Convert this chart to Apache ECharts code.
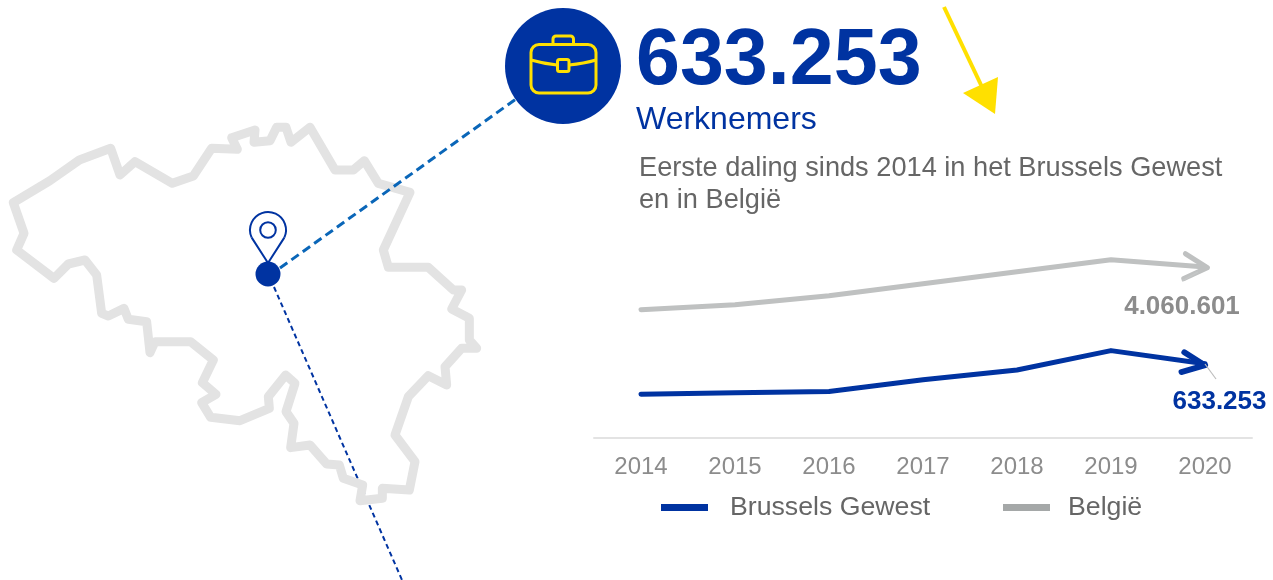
<!DOCTYPE html>
<html><head><meta charset="utf-8">
<style>html,body{margin:0;padding:0;background:#fff}#c{width:1273px;height:580px}</style>
<script src="https://cdn.jsdelivr.net/npm/echarts@6/dist/echarts.min.js"></script>
</head><body><div id="c"></div>
<script>
const years = ['2014','2015','2016','2017','2018','2019','2020'];
const brussels = [617500, 618300, 619000, 625000, 630000, 640000, 633253];
const belgie = [3804000, 3834000, 3888000, 3960000, 4032000, 4104000, 4060601];
const nameBrussels = 'Brussels Gewest';
const nameBelgie = 'België';
const headline = '633.253';
const unit = 'Werknemers';
const subtitle = 'Eerste daling sinds 2014 in het Brussels Gewest\nen in België';
// Outline of Belgium (decorative backdrop)
const outline = [[40,278],[150,212],[238,150],[332,115],[360,195],[405,155],[517,220],[580,198],[635,115],[712,118],[695,83],[765,60],[762,97],[810,92],[830,52],[858,52],[873,97],[930,52],[1005,180],[1060,180],[1093,152],[1135,220],[1230,247],[1150,420],[1165,472],[1285,472],[1360,540],[1385,540],[1355,597],[1408,625],[1408,690],[1430,715],[1385,715],[1335,770],[1340,825],[1285,797],[1225,860],[1185,975],[1245,1055],[1228,1140],[1147,1135],[1147,1165],[1080,1172],[1088,1125],[1030,1105],[1018,1065],[980,1062],[930,1005],[872,1013],[882,940],[858,905],[885,820],[857,795],[805,860],[808,895],[720,932],[632,922],[605,878],[648,853],[607,818],[640,750],[572,695],[465,695],[450,728],[440,635],[385,628],[372,595],[325,618],[305,610],[290,495],[255,450],[205,462],[162,505],[50,420],[72,370]];

const BLUE = '#0033a1', YEL = '#ffe000', FONT = '"Liberation Sans", Arial, sans-serif';
const dots = v => String(v).replace(/\B(?=(\d{3})+(?!\d))/g, '.');
const chevron = 'path://M0,0 L12,9 L0,18';

function withEnd(values, color, rot, size, off, bw, labelColor, labelOffset) {
  return values.map((v, i) => i < values.length - 1 ? v : {
    value: v,
    symbol: chevron, symbolSize: size, symbolRotate: rot, symbolOffset: off,
    itemStyle: {color: 'rgba(0,0,0,0)', borderColor: color, borderWidth: bw, borderCap: 'round', borderJoin: 'round'},
    label: {show: true, position: 'bottom', distance: 0, offset: labelOffset, formatter: p => dots(p.value),
            fontFamily: FONT, fontWeight: 'bold', fontSize: 26, color: labelColor}
  });
}
const legendBase = {top: 489, icon: 'rect', itemWidth: 47, itemHeight: 7, itemStyle: {borderWidth: 0}, selectedMode: false};
const legendText = pad => ({fontFamily: FONT, fontSize: 26.7, color: '#666', padding: [0, 0, 0, pad]});

const chart = echarts.init(document.getElementById('c'), null, {renderer: 'canvas'});
chart.setOption({
  animation: false,
  backgroundColor: '#fff',
  title: [
    {text: headline, left: 631, top: 18, textStyle: {fontFamily: FONT, fontWeight: 'bold', fontSize: 79, color: BLUE}},
    {text: unit, left: 631, top: 99, textStyle: {fontFamily: FONT, fontWeight: 'normal', fontSize: 32, color: BLUE}},
    {text: subtitle, left: 634, top: 148, textStyle: {fontFamily: FONT, fontWeight: 'normal', fontSize: 27.2, lineHeight: 32, color: '#666'}}
  ],
  grid: {left: 594, width: 658, top: 238, height: 200},
  legend: [
    Object.assign({}, legendBase, {left: 656, textStyle: legendText(17), data: [{name: nameBrussels, itemStyle: {color: BLUE}}]}),
    Object.assign({}, legendBase, {left: 998, textStyle: legendText(13), data: [{name: nameBelgie, itemStyle: {color: '#a5a8a8'}}]})
  ],
  xAxis: {type: 'category', data: years, boundaryGap: true,
    axisLine: {lineStyle: {color: '#e3e3e3', width: 2}}, axisTick: {show: false},
    axisLabel: {fontFamily: FONT, fontSize: 24, color: '#8c8c8c', margin: 17}},
  yAxis: [
    {type: 'value', min: 595000, max: 698000, show: false, splitLine: {show: false}},
    {type: 'value', min: 3034000, max: 4234000, show: false, splitLine: {show: false}}
  ],
  series: [
    {name: nameBelgie, type: 'line', yAxisIndex: 1, symbol: 'none', smooth: false,
     lineStyle: {color: '#bfc1c1', width: 5, cap: 'round', join: 'round'}, itemStyle: {color: '#bfc1c1'},
     data: withEnd(belgie, '#bfc1c1', -4, [23, 25], [-9, 0], 5, '#8c8c8c', [-14, 11])},
    {name: nameBrussels, type: 'line', yAxisIndex: 0, symbol: 'none', smooth: false,
     lineStyle: {color: BLUE, width: 5, cap: 'round', join: 'round'}, itemStyle: {color: BLUE},
     data: withEnd(brussels, BLUE, -8, [22, 20], [-11, 0], 6, BLUE, [25.5, 10])}
  ],
  graphic: {elements: [
    // dotted line runs behind the map outline
    {type: 'line', z: 1, shape: {x1: 274, y1: 287, x2: 402, y2: 580}, style: {stroke: BLUE, lineWidth: 2, lineDash: [5, 3.5]}},
    {type: 'polygon', z: 2, shape: {points: outline.map(p => [p[0] / 3, 110 + p[1] / 3])},
     style: {fill: 'none', stroke: '#e3e3e3', lineWidth: 9, lineJoin: 'round'}},
    {type: 'line', z: 3, shape: {x1: 280, y1: 268, x2: 516, y2: 99}, style: {stroke: '#0a66b8', lineWidth: 3, lineDash: [9, 5]}},
    // pin
    {type: 'arc', z: 4, shape: {cx: 268, cy: 230, r: 18, startAngle: 25 * Math.PI / 180, endAngle: 155 * Math.PI / 180, clockwise: false}, style: {fill: 'none', stroke: BLUE, lineWidth: 2}},
    {type: 'polyline', z: 4, shape: {points: [[284.3, 237.6], [268, 263], [251.7, 237.6]]}, style: {fill: 'none', stroke: BLUE, lineWidth: 2}},
    {type: 'circle', z: 4, shape: {cx: 268, cy: 230, r: 7.8}, style: {fill: 'none', stroke: BLUE, lineWidth: 2}},
    {type: 'circle', z: 5, shape: {cx: 268, cy: 274, r: 12.5}, style: {fill: BLUE}},
    // badge
    {type: 'circle', z: 5, shape: {cx: 563, cy: 66, r: 58}, style: {fill: BLUE}},
    {type: 'rect', z: 6, shape: {x: 553, y: 36, width: 20.5, height: 14, r: 3}, style: {fill: 'none', stroke: YEL, lineWidth: 3}},
    {type: 'rect', z: 7, shape: {x: 531, y: 44.5, width: 65, height: 48.5, r: 8}, style: {fill: BLUE, stroke: YEL, lineWidth: 3}},
    {type: 'bezierCurve', z: 8, shape: {x1: 531, y1: 60, x2: 557, y2: 65, cpx1: 543, cpy1: 63.5}, style: {fill: 'none', stroke: YEL, lineWidth: 3}},
    {type: 'bezierCurve', z: 8, shape: {x1: 569, y1: 65, x2: 596, y2: 60, cpx1: 584, cpy1: 63.5}, style: {fill: 'none', stroke: YEL, lineWidth: 3}},
    {type: 'rect', z: 8, shape: {x: 557.5, y: 59.5, width: 11.5, height: 12, r: 2}, style: {fill: 'none', stroke: YEL, lineWidth: 3}},
    // yellow trend arrow
    {type: 'line', z: 6, shape: {x1: 944, y1: 7, x2: 982, y2: 87}, style: {stroke: YEL, lineWidth: 4}},
    {type: 'polygon', z: 6, shape: {points: [[963, 93], [998, 77], [995, 114]]}, style: {fill: YEL}},
    // thin leaders at the arrow tips
    {type: 'line', z: 6, shape: {x1: 1205, y1: 364, x2: 1216, y2: 379}, style: {stroke: '#bdbdbd', lineWidth: 1.2}},
    {type: 'line', z: 6, shape: {x1: 1198, y1: 272, x2: 1182, y2: 281}, style: {stroke: '#c4c6c6', lineWidth: 1.5}}
  ]}
});
</script></body></html>
